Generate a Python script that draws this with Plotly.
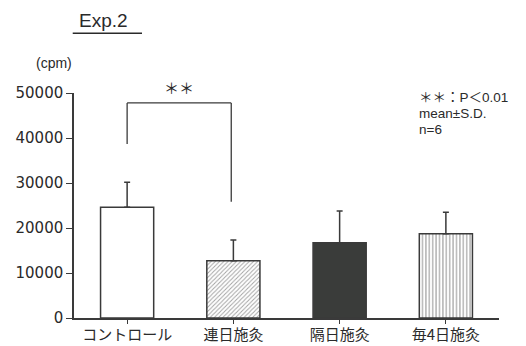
import plotly.graph_objects as go

# Group labels (Japanese) and measured counts
categories = ["コントロール", "連日施灸", "隔日施灸", "毎4日施灸"]
mean_cpm = [24600, 12700, 16700, 18700]
sd_cpm = [5550, 4650, 7050, 4800]

y_ticks = [0, 10000, 20000, 30000, 40000, 50000]
y_tick_text = ["0", "10000", "20000", "30000", "40000", "50000"]

note_lines = ["＊＊：P＜0.01", "mean±S.D.", "n=6"]

line_col = "#3a3a3a"
text_col = "#2a2a2a"

x_idx = list(range(len(categories)))

fig = go.Figure()
fig.add_trace(go.Bar(
    x=x_idx,
    y=mean_cpm,
    width=0.5,
    marker=dict(
        color=["white", "white", "#3a3c3a", "white"],
        line=dict(color=line_col, width=1.5),
        pattern=dict(
            shape=["", "/", "", "|"],
            fgcolor=["#555", "#505050", "#555", "#333"],
            bgcolor=["white", "white", "#3a3c3a", "white"],
            size=[4, 3, 4, 3.4],
            solidity=[0.3, 0.32, 0.3, 0.35],
            fillmode="overlay",
        ),
    ),
    error_y=dict(
        type="data",
        symmetric=False,
        array=sd_cpm,
        arrayminus=[0] * len(sd_cpm),
        color=line_col,
        thickness=1.5,
        width=3,
    ),
    showlegend=False,
))

# Significance bracket between control and daily moxibustion
bracket_top = 47800
gap = 8500
left_end = mean_cpm[0] + sd_cpm[0] + gap
right_end = mean_cpm[1] + sd_cpm[1] + gap
bracket_style = dict(color=line_col, width=1.3)
fig.add_shape(type="line", xref="x", yref="y", x0=0, x1=0, y0=left_end, y1=bracket_top, line=bracket_style)
fig.add_shape(type="line", xref="x", yref="y", x0=0, x1=0.98, y0=bracket_top, y1=bracket_top, line=bracket_style)
fig.add_shape(type="line", xref="x", yref="y", x0=0.98, x1=0.98, y0=bracket_top, y1=right_end, line=bracket_style)
fig.add_annotation(x=0.49, y=bracket_top, xref="x", yref="y", text="＊＊", showarrow=False,
                   yanchor="bottom", yshift=3, font=dict(size=15, color=text_col, family="Noto Sans CJK JP"))

# Title with underline
fig.add_annotation(x=0.007, y=1.324, xref="paper", yref="paper", text="Exp.2", showarrow=False,
                   xanchor="left", yanchor="middle",
                   font=dict(size=19, color=text_col, family="Liberation Sans"))
fig.add_shape(type="line", xref="paper", yref="paper", x0=-0.003, x1=0.16, y0=1.266, y1=1.266,
              line=dict(color=text_col, width=1.5))

# Unit label
fig.add_annotation(x=-0.047, y=1.133, xref="paper", yref="paper", text="(cpm)", showarrow=False,
                   xanchor="center", yanchor="middle",
                   font=dict(size=14, color=text_col, family="Liberation Sans"))

# Statistics note, one annotation per line for tight spacing
for i, line in enumerate(note_lines):
    fig.add_annotation(x=0.808, y=0.978 - i * 0.07, xref="paper", yref="paper",
                       xanchor="left", yanchor="middle", align="left", showarrow=False,
                       text=line,
                       font=dict(size=13.5, color=text_col, family="Liberation Sans, Noto Sans CJK JP"))

fig.update_layout(
    width=526, height=346,
    margin=dict(l=74, r=27, t=93, b=28),
    paper_bgcolor="white",
    plot_bgcolor="white",
    bargap=0.5,
)
fig.update_xaxes(
    range=[-0.5, 3.5],
    tickvals=x_idx,
    ticktext=categories,
    showline=True, linecolor=line_col, linewidth=1.5,
    ticks="outside", ticklen=4, tickcolor=line_col, tickwidth=1.3,
    showgrid=False, zeroline=False, automargin=False,
    ticklabelstandoff=-2,
    tickfont=dict(size=15, color=text_col, family="Noto Sans CJK JP"),
)
fig.update_yaxes(
    range=[0, 50000],
    tickvals=y_ticks,
    ticktext=y_tick_text,
    showline=True, linecolor=line_col, linewidth=1.5,
    ticks="outside", ticklen=6, tickcolor=line_col, tickwidth=1.3,
    showgrid=False, zeroline=False, automargin=False,
    tickfont=dict(size=15, color=text_col, family="DejaVu Sans"),
)

fig.write_html("out.html")
